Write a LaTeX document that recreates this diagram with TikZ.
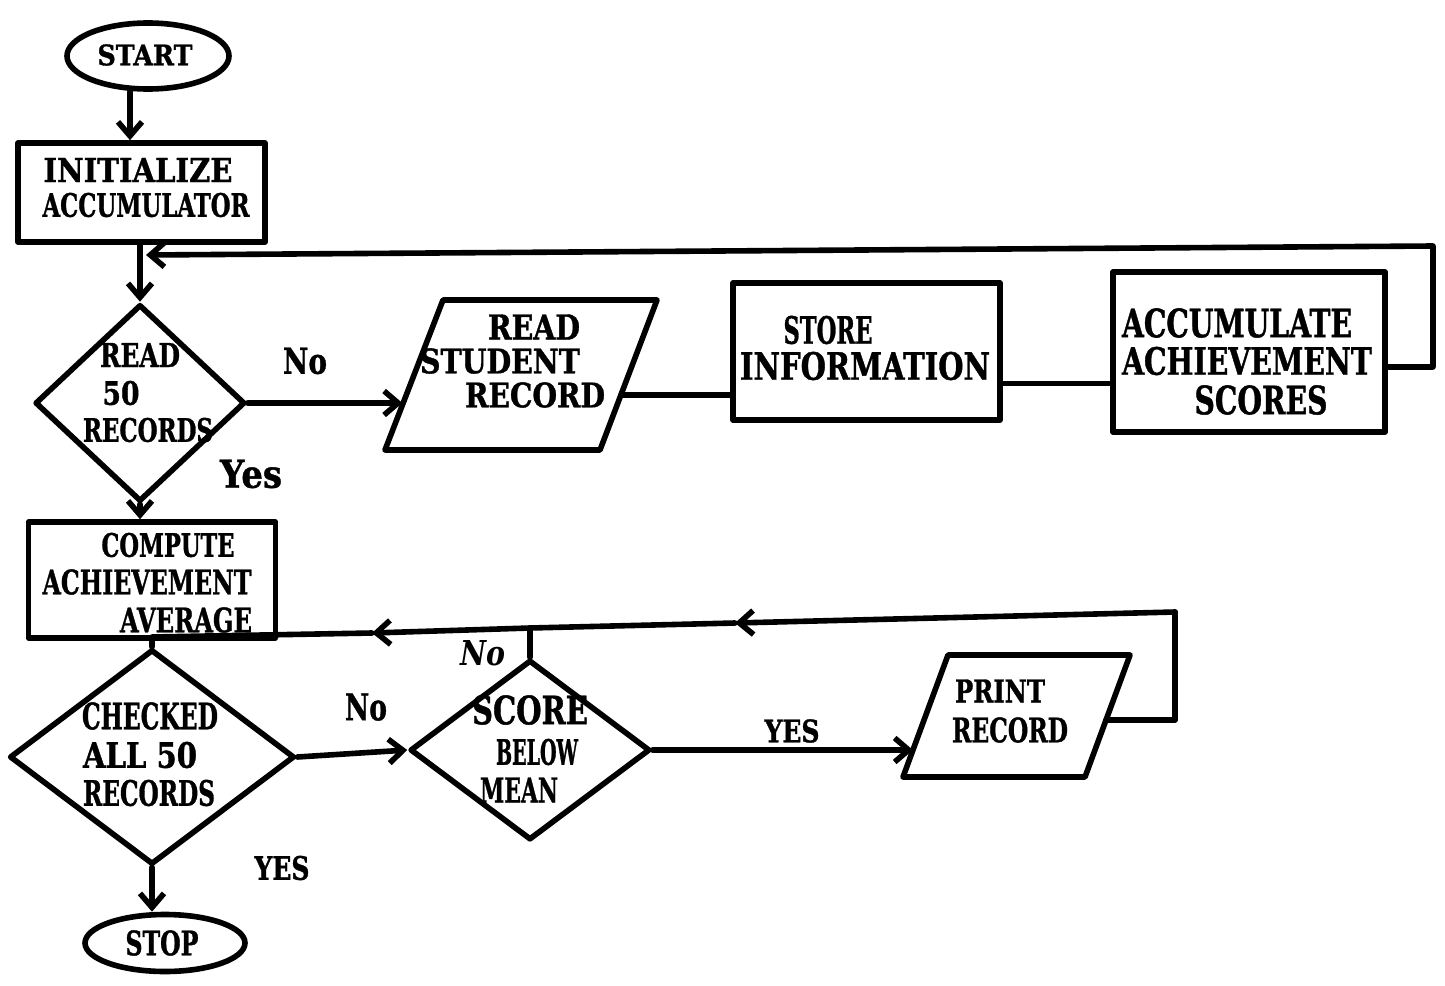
\documentclass[tikz,border=0pt]{standalone}
\usepackage{fontspec}
\usepackage{graphicx}
\setmainfont{DejaVu Serif}[BoldFeatures={FakeBold=1.2}]
\usetikzlibrary{shapes.geometric,arrows.meta,calc}
\newdimen\pxu
\pxu=0.5pt
\newcommand{\fitword}[3]{\resizebox{#1\pxu}{#2\pxu}{#3}}
\begin{document}
\begin{tikzpicture}[x=0.5pt,y=-0.5pt,
  ln/.style={line width=2.8pt,line cap=round,line join=round},
  arr/.style={ln,-{Straight Barb[length=7pt,width=12pt]}},
  shp/.style={draw,ln,inner sep=0pt},
  box/.style={shp,rectangle},
  term/.style={shp,ellipse},
  dec/.style={shp,diamond},
  txt/.style={inner sep=0pt,font=\bfseries},
]
\fill[white] (0,0) rectangle (1445,985);
\useasboundingbox (0,0) rectangle (1445,985);

% ---------- shapes ----------
\node[term,minimum width=81pt,minimum height=33pt] (start) at (148,56) {};
\node[box,minimum width=123.5pt,minimum height=49.5pt] (init) at (141.5,192.5) {};
\node[dec,minimum width=105pt,minimum height=98.5pt] (read50) at (140,403) {};
% parallelogram READ STUDENT RECORD
\coordinate (rr-bl) at (385,450);
\coordinate (rr-br) at (600,450);
\coordinate (rr-tr) at (657,300);
\coordinate (rr-tl) at (443,300);
\draw[ln] (rr-bl) -- (rr-br) -- (rr-tr) -- (rr-tl) -- cycle;
\node[box,minimum width=133.5pt,minimum height=68.5pt] (store) at (866.5,351.5) {};
\node[box,minimum width=136pt,minimum height=80pt] (accum) at (1249,352) {};
\node[box,minimum width=123.5pt,minimum height=58pt] (compute) at (152,580) {};
\node[dec,minimum width=142.5pt,minimum height=107.5pt] (checked) at (152,757) {};
\node[dec,minimum width=120pt,minimum height=90pt] (score) at (530,750) {};
% parallelogram PRINT RECORD
\coordinate (pr-bl) at (903,777);
\coordinate (pr-br) at (1085,777);
\coordinate (pr-tr) at (1130,655);
\coordinate (pr-tl) at (948,655);
\draw[ln] (pr-bl) -- (pr-br) -- (pr-tr) -- (pr-tl) -- cycle;
\node[term,minimum width=80pt,minimum height=28.5pt] (stop) at (165,943) {};

% ---------- texts ----------
\node[txt] (start-t) at (145,55) {\fitword{95}{21}{START}};
\node[txt] (init-t1) at (138,170) {\fitword{189}{24}{INITIALIZE}};
\node[txt] (init-t2) at (146,205) {\fitword{207}{24}{ACCUMULATOR}};
\node[txt] (read50-t1) at (140,355) {\fitword{80}{24}{READ}};
\node[txt] (read50-t2) at (121,393) {\fitword{37}{24}{50}};
\node[txt] (read50-t3) at (148,430) {\fitword{130}{24}{RECORDS}};
\node[txt] (readrec-t1) at (534,327) {\fitword{92}{25}{READ}};
\node[txt] (readrec-t2) at (500,361) {\fitword{160}{25}{STUDENT}};
\node[txt] (readrec-t3) at (535,395) {\fitword{140}{25}{RECORD}};
\node[txt] (store-t1) at (828,330) {\fitword{89}{28}{STORE}};
\node[txt] (store-t2) at (865,366) {\fitword{250}{28}{INFORMATION}};
\node[txt] (accum-t1) at (1237,323) {\fitword{230}{29}{ACCUMULATE}};
\node[txt] (accum-t2) at (1247,361) {\fitword{250}{28}{ACHIEVEMENT}};
\node[txt] (accum-t3) at (1261,400) {\fitword{133}{29}{SCORES}};
\node[txt] (compute-t1) at (168,545) {\fitword{133}{24}{COMPUTE}};
\node[txt] (compute-t2) at (147,582) {\fitword{209}{25}{ACHIEVEMENT}};
\node[txt] (compute-t3) at (186,620) {\fitword{132}{25}{AVERAGE}};
\node[txt] (checked-t1) at (150,716) {\fitword{136}{27}{CHECKED}};
\node[txt] (checked-t2) at (140,755) {\fitword{114}{26}{ALL 50}};
\node[txt] (checked-t3) at (149,793) {\fitword{132}{26}{RECORDS}};
\node[txt] (score-t1) at (530,710) {\fitword{116}{29}{SCORE}};
\node[txt] (score-t2) at (537,752) {\fitword{82}{26}{BELOW}};
\node[txt] (score-t3) at (519,790) {\fitword{78}{25}{MEAN}};
\node[txt] (print-t1) at (1000,691) {\fitword{90}{23}{PRINT}};
\node[txt] (print-t2) at (1010,730) {\fitword{116}{25}{RECORD}};
\node[txt] (stop-t) at (162,943) {\fitword{73}{25}{STOP}};

% ---------- connector labels ----------
\node[txt] (lab-no1) at (305,361) {\fitword{44}{26}{No}};
\node[txt] (lab-yes1) at (251,474) {\fitword{62}{28}{Yes}};
\node[txt] (lab-no2) at (366,707) {\fitword{42}{27}{No}};
\node[txt,font=\bfseries\itshape] (lab-no3) at (483,653) {\fitword{45}{25}{No}};
\node[txt] (lab-yes2) at (792,731) {\fitword{55}{23}{YES}};
\node[txt] (lab-yes3) at (282,868) {\fitword{55}{24}{YES}};

% ---------- coordinates ----------
\coordinate (rrin) at ($(rr-bl)!0.3!(rr-tl)$);
\coordinate (rrout) at ($(rr-br)!0.367!(rr-tr)$);
\coordinate (prin) at ($(pr-bl)!0.221!(pr-tl)$);
\coordinate (prout) at ($(pr-br)!0.467!(pr-tr)$);
\coordinate (lpB) at (1433,246);
\coordinate (lpC) at (146,255);
\coordinate (lp1) at (1175,612);
\coordinate (lpa1) at (735,623);
\coordinate (j2) at (530,628);
\coordinate (lpa2) at (372,633);
\coordinate (j3) at (152,637);

% ---------- connectors ----------
\draw[arr] ([xshift=-9pt]start.south) -- ([xshift=-9pt]start.south |- init.north);
\draw[arr] (read50.north |- init.south) -- (read50.north);
\draw[arr] ([yshift=-7.5pt]accum.east) -| (lpB) -- (lpC);
\draw[arr] (read50.east) -- (read50.east -| rrin);
\draw[ln] (rrout) -- (rrout -| store.west);
\draw[ln] ([yshift=-16pt]store.east) -- ([yshift=-16pt]store.east -| accum.west);
\draw[arr] (read50.south) -- (read50.south |- compute.north);
\draw[ln] (compute.south) -- (checked.north);
\draw[arr] (checked.east) -- (score.west);
\draw[arr] (score.east) -- (score.east -| prin);
\draw[ln] (prout) -- (prout -| lp1) -- (lp1);
\draw[arr] (lp1) -- (lpa1);
\draw[ln] (lpa1) -- (j2);
\draw[ln] (score.north) -- (j2);
\draw[arr] (j2) -- (lpa2);
\draw[ln] (lpa2) -- (j3);
\draw[arr] (checked.south) -- (checked.south |- stop.north);
\end{tikzpicture}
\end{document}
